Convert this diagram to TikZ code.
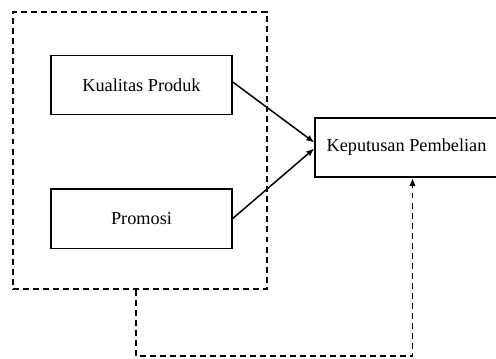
\documentclass[tikz,border=0pt]{standalone}
\usepackage{fontspec}
\setmainfont{Liberation Serif}
\usetikzlibrary{positioning, arrows.meta}

\begin{document}
\begin{tikzpicture}[x=0.02cm, y=-0.02cm, line width=0.85pt,
        var/.style={draw, rectangle, minimum width=3.62cm, minimum height=1.19cm, font=\fontsize{10.4}{12}\selectfont},
        garis/.style={dash pattern=on 3.4pt off 2.3pt}]
            \useasboundingbox (0, 0) rectangle (496, 358);
            \node [draw, garis, minimum width=5.08cm, minimum height=5.54cm] (grup) at (140, 150.5) {};
            \node [var] (kp) at (141.5, 85) {Kualitas Produk};
            \node [var] (pr) at (141.5, 218.5) {Promosi};
            \node [var, minimum width=3.66cm] (kep) at (406.5, 147.5) {Keputusan Pembelian};

            \draw [-{Latex[length=1.6mm, width=1.3mm]}] ([yshift=0.06cm]kp.east) -- ([yshift=0.1cm]kep.west);
            \draw [-{Latex[length=1.6mm, width=1.3mm]}] (pr.east) -- ([yshift=-0.02cm]kep.west);
            \draw [garis, -{Latex[length=1.6mm, width=1.3mm]}] ([xshift=-0.08cm]grup.south) -- ++(0, 66.5) -| ([xshift=0.12cm]kep.south);
        \end{tikzpicture}
\end{document}
